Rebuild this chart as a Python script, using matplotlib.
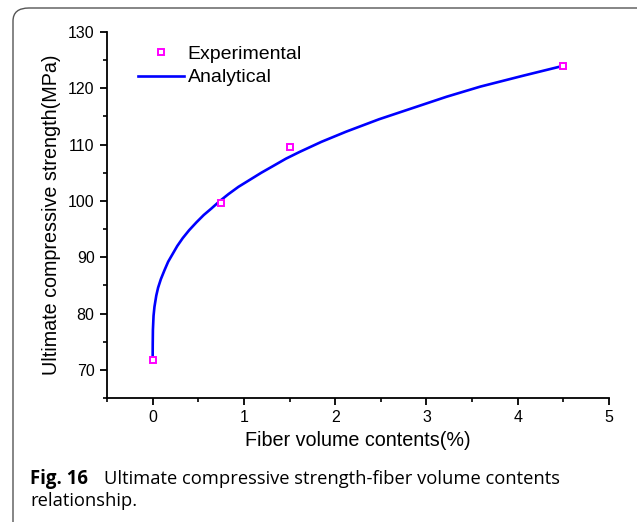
import matplotlib.pyplot as plt
from matplotlib.patches import FancyBboxPatch
from matplotlib.ticker import MultipleLocator

# experimental points
exp_x = [0, 0.75, 1.5, 4.5]
exp_y = [71.7, 99.6, 109.6, 123.9]

# analytical curve
ana_x = [0, 0.001, 0.003, 0.01, 0.02, 0.04, 0.06, 0.09, 0.13, 0.17, 0.22, 0.27,
         0.33, 0.40, 0.48, 0.56, 0.64, 0.73, 0.83, 0.94, 1.06, 1.19, 1.32, 1.46,
         1.61, 1.85, 2.12, 2.48, 2.85, 3.22, 3.59, 4.05, 4.5]
ana_y = [71.7, 74.5, 77.1, 79.6, 81.2, 83.2, 84.6, 86.1, 87.7, 89.2, 90.6, 92.0,
         93.4, 94.8, 96.2, 97.5, 98.6, 99.9, 101.2, 102.5, 103.7, 105.0, 106.2, 107.5,
         108.7, 110.5, 112.3, 114.5, 116.5, 118.5, 120.3, 122.2, 124.0]

plt.rcParams['font.family'] = ['Liberation Sans', 'DejaVu Sans']

fig = plt.figure(figsize=(6.37, 5.22), dpi=100)

# rounded frame around figure + caption
frame = FancyBboxPatch((13 / 637, -0.2), 1.2, 1.2 - 8 / 522,
                       boxstyle='round,pad=0,rounding_size=0.025',
                       transform=fig.transFigure, facecolor='none',
                       edgecolor='#555555', linewidth=1.0)
fig.patches.append(frame)

ax = fig.add_axes([107 / 637, 124 / 522, 502 / 637, 366 / 522])

ax.plot(ana_x, ana_y, color='#0000ff', linewidth=1.9, label='Analytical', zorder=2)
ax.plot(exp_x, exp_y, linestyle='none', marker='s', markersize=5,
        markerfacecolor='white', markeredgecolor='#ff00ff', markeredgewidth=1.4,
        label='Experimental', zorder=3)

ax.set_xlim(-0.5, 5)
ax.set_ylim(65, 130)
ax.xaxis.set_major_locator(MultipleLocator(1))
ax.xaxis.set_minor_locator(MultipleLocator(0.5))
ax.yaxis.set_major_locator(MultipleLocator(10))
ax.yaxis.set_minor_locator(MultipleLocator(5))

for s in ['top', 'right']:
    ax.spines[s].set_visible(False)
for s in ['left', 'bottom']:
    ax.spines[s].set_linewidth(1.3)
ax.tick_params(which='major', direction='out', length=5, width=1.3, labelsize=11.5, pad=4)
ax.tick_params(which='minor', direction='out', length=3, width=1.2)

ax.set_xlabel('Fiber volume contents(%)', fontsize=14.2, labelpad=4)
ax.set_ylabel('Ultimate compressive strength(MPa)', fontsize=14.2, labelpad=5)

handles, labels = ax.get_legend_handles_labels()
ax.legend(handles[::-1], labels[::-1], loc='upper left', bbox_to_anchor=(0.035, 1.0),
          frameon=False, fontsize=14, handlelength=2.35, handletextpad=0.2,
          labelspacing=0.29, borderaxespad=0.3)

fig.text(30 / 637, 38 / 522, 'Fig. 16', fontsize=13.4, fontweight='bold',
         family='Open Sans', va='baseline')
fig.text(104 / 637, 38 / 522, 'Ultimate compressive strength-fiber volume contents',
         fontsize=13.2, family='Open Sans', va='baseline')
fig.text(30 / 637, 16 / 522, 'relationship.', fontsize=13.2, family='Open Sans',
         va='baseline')

fig.savefig('out.png', dpi=100)
